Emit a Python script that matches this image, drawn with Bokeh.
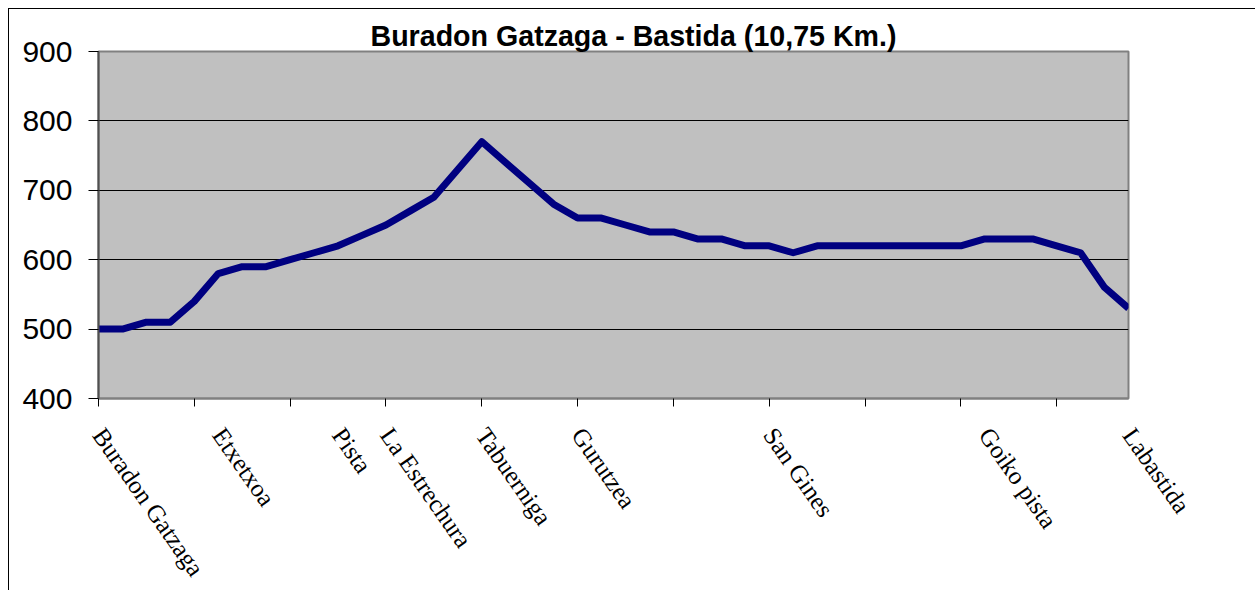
import math
from bokeh.plotting import figure
from bokeh.models import Range1d, FixedTicker
from bokeh.embed import file_html
from bokeh.resources import INLINE

# ---- data ----
title_text = "Buradon Gatzaga - Bastida (10,75 Km.)"
place_names = [
    "Buradon Gatzaga", "", "", "", "", "Etxetxoa", "", "", "", "",
    "Pista", "", "La Estrechura", "", "", "", "Tabuerniga", "", "", "",
    "Gurutzea", "", "", "", "", "", "", "", "San Gines", "",
    "", "", "", "", "", "", "", "Goiko pista", "", "",
    "", "", "", "Labastida",
]
elevation = [
    500, 500, 510, 510, 540, 580, 590, 590, 600, 610,
    620, 635, 650, 670, 690, 730, 770, 740, 710, 680,
    660, 660, 650, 640, 640, 630, 630, 620, 620, 610,
    620, 620, 620, 620, 620, 620, 620, 630, 630, 630,
    620, 610, 560, 530,
]
y_ticks = [400, 500, 600, 700, 800, 900]
x_tick_step = 4

idx = list(range(len(elevation)))
named_idx = [i for i, n in enumerate(place_names) if n]

p = figure(
    width=1247, height=582,
    output_backend="svg", toolbar_location=None,
    x_range=Range1d(0, len(elevation) - 1),
    y_range=Range1d(y_ticks[0], y_ticks[-1]),
    min_border_left=89, min_border_right=128,
    min_border_top=42, min_border_bottom=192,
    background_fill_color="#C0C0C0",
    border_fill_color="white",
)
p.styles = {
    "margin-left": "8px", "margin-top": "8px",
    "border-left": "1px solid black", "border-top": "1px solid black",
}

p.outline_line_color = "#808080"
p.outline_line_width = 2

# title
p.title.text = title_text
p.title.text_font = "Liberation Sans"
p.title.text_font_style = "bold"
p.title.text_font_size = "28.6px"
p.title.align = "left"
p.title.offset = 272
p.title.standoff = 0
p.title.text_color = "black"

# y axis
p.yaxis.ticker = FixedTicker(ticks=y_ticks)
p.yaxis.major_label_text_font = "Liberation Sans"
p.yaxis.major_label_text_font_size = "30px"
p.yaxis.major_label_text_color = "black"
p.yaxis.major_label_standoff = 16
p.yaxis.major_tick_out = 10
p.yaxis.major_tick_in = 0
p.yaxis.minor_tick_out = 0
p.yaxis.minor_tick_in = 0
p.yaxis.major_tick_line_color = "black"
p.yaxis.axis_line_color = "#505050"
p.yaxis.axis_line_width = 2

# x axis: labels at named places, tick marks every 4 points
x_ticks = list(range(0, len(elevation) - 1, x_tick_step))
p.xaxis.ticker = FixedTicker(ticks=named_idx, minor_ticks=x_ticks)
p.xaxis.major_label_overrides = {i: place_names[i] for i in named_idx}
p.xaxis.major_label_orientation = -55 * math.pi / 180
p.xaxis.major_label_text_font = "Liberation Serif"
p.xaxis.major_label_text_font_size = "25px"
p.xaxis.major_label_text_color = "black"
p.xaxis.major_label_standoff = 24
p.xaxis.major_tick_out = 0
p.xaxis.major_tick_in = 0
p.xaxis.minor_tick_out = 8
p.xaxis.minor_tick_in = 0
p.xaxis.minor_tick_line_color = "black"
p.xaxis.axis_line_color = "#808080"
p.xaxis.axis_line_width = 2

p.xgrid.visible = False
p.ygrid.ticker = FixedTicker(ticks=y_ticks)
p.ygrid.grid_line_color = "black"
p.ygrid.grid_line_width = 1

p.line(idx, elevation, line_color="#000080", line_width=7, line_join="round")

open("out.html", "w").write(file_html(p, INLINE))
